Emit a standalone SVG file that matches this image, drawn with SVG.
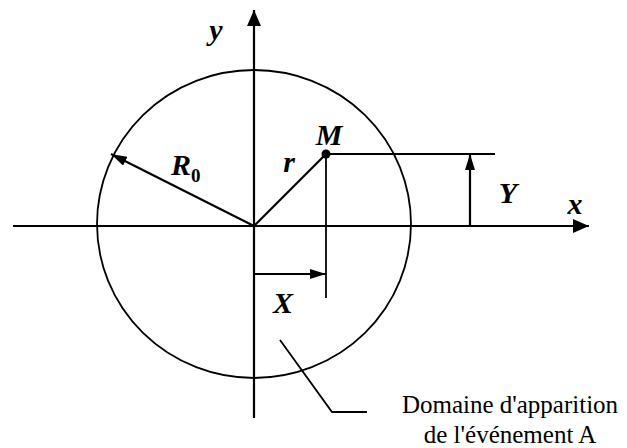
<svg xmlns="http://www.w3.org/2000/svg" width="627" height="448" viewBox="0 0 627 448">
<style>
.ln{stroke:#000;stroke-width:2.2;fill:none}
.thin{stroke:#000;stroke-width:1.8;fill:none}
.lbl{font-family:"Liberation Serif","Times New Roman",serif;font-weight:bold;font-style:italic;font-size:30px;fill:#000}
.txt{font-family:"Liberation Serif","Times New Roman",serif;font-size:25px;fill:#000}
</style>
<defs>
<marker id="ah" markerWidth="16" markerHeight="14" refX="16" refY="7" orient="auto" markerUnits="userSpaceOnUse">
<path d="M0,0 L16,7 L0,14 Z" fill="#000"/>
</marker>
<marker id="ahs" markerWidth="16" markerHeight="10" refX="16" refY="5" orient="auto" markerUnits="userSpaceOnUse">
<path d="M0,0 L16,5 L0,10 Z" fill="#000"/>
</marker>
</defs>
<g id="domain">
<ellipse cx="254" cy="224" rx="157" ry="154" class="thin"/>
</g>
<g id="connectors">
<line x1="13" y1="226" x2="589" y2="226" class="ln" marker-end="url(#ah)"/>
<line x1="254" y1="418" x2="254" y2="10" class="ln" marker-end="url(#ah)"/>
<line x1="254" y1="226" x2="111" y2="154" class="ln" marker-end="url(#ahs)"/>
<line x1="254" y1="226" x2="326" y2="154" class="ln"/>
<line x1="326" y1="154" x2="495" y2="154" class="thin"/>
<line x1="326" y1="154" x2="326" y2="298" class="thin"/>
<line x1="254" y1="274" x2="326" y2="274" class="thin" marker-end="url(#ahs)"/>
<line x1="470" y1="226" x2="470" y2="154" class="ln" marker-end="url(#ahs)"/>
<polyline points="280,340 332,412 367,412" class="thin"/>
</g>
<g id="point-M">
<circle cx="326" cy="154" r="4.5" fill="#000"/>
<text x="329" y="145" class="lbl" text-anchor="middle">M</text>
</g>
<g id="labels">
<text x="216" y="40" class="lbl" text-anchor="middle">y</text>
<text x="575" y="214" class="lbl" text-anchor="middle">x</text>
<text x="289" y="172" class="lbl" text-anchor="middle">r</text>
<text x="171" y="175" class="lbl">R<tspan font-size="19" font-style="normal" dy="7">0</tspan></text>
<text x="508" y="203" class="lbl" text-anchor="middle">Y</text>
<text x="283" y="313" class="lbl" text-anchor="middle">X</text>
</g>
<g id="caption">
<text x="510" y="413" class="txt" text-anchor="middle">Domaine d'apparition</text>
<text x="510" y="443" class="txt" text-anchor="middle">de l'événement A</text>
</g>
</svg>
